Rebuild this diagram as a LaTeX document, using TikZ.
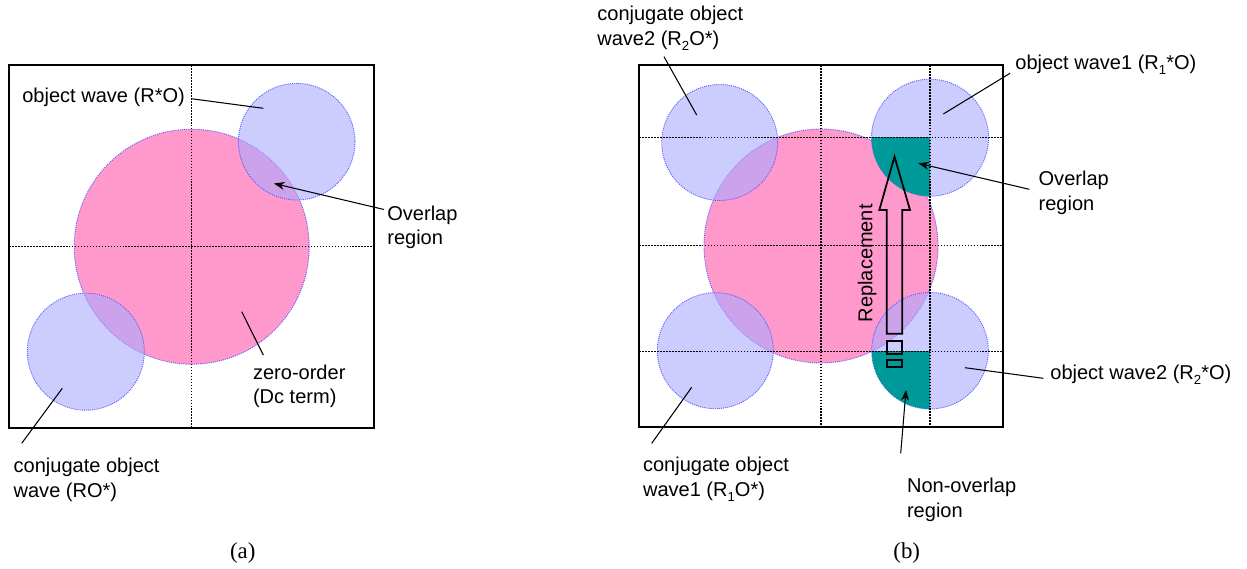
\documentclass[tikz,border=0pt]{standalone}
\usepackage{fontspec}
\setmainfont{Liberation Sans}
\newfontfamily\capfont{Liberation Serif}
\usetikzlibrary{arrows.meta}
\definecolor{pinkfill}{RGB}{255,153,204}
\definecolor{bluefill}{RGB}{170,170,255}
\definecolor{rimblue}{RGB}{90,90,255}
\definecolor{tealfill}{RGB}{0,153,153}
\newcommand{\lsub}[1]{\raisebox{-0.5ex}{\fontsize{7.5}{8}\selectfont #1}}
\begin{document}
\begin{tikzpicture}[x=0.02cm,y=-0.02cm,
 lbl/.style={anchor=west,inner sep=0pt,align=left,font=\fontsize{11.4}{14}\selectfont},
 captext/.style={inner sep=0pt,font=\capfont\fontsize{13}{15}\selectfont},
 zero/.style={fill=pinkfill,draw=rimblue,line width=0.5pt,dash pattern=on 0.6pt off 0.6pt},
 wave/.style={fill=bluefill,fill opacity=0.6,draw=rimblue,draw opacity=1,line width=0.5pt,dash pattern=on 0.6pt off 0.6pt},
 gridline/.style={line width=0.6pt,dash pattern=on 1pt off 0.7pt},
 frame/.style={draw=black,line width=0.8pt},
 leader/.style={line width=0.6pt},
 pointer/.style={line width=0.6pt,-{Stealth[length=6pt,width=4.5pt]}},
 hollow/.style={draw=black,line width=1pt,line join=miter}]
\useasboundingbox (0,0) rectangle (1247,568);

% ---------------- panel (a) ----------------
\fill[zero] (191.7,246.7) circle (117.5);
\filldraw[wave] (296.7,141.7) circle (58.3);
\filldraw[wave] (85.8,351.7) circle (58.5);
\draw[gridline] (191.7,65) -- (191.7,428);
\draw[gridline] (9,246.7) -- (374,246.7);
\draw[frame] (9,65) rectangle (374,428);

\node[lbl] (a1) at (22,97.7) {object wave (R*O)};
\node[lbl] (a2) at (387,227.5) {Overlap\\region};
\node[lbl] (a3) at (252.7,386.5) {zero-order\\(Dc term)};
\node[lbl] (a4) at (13.3,480) {conjugate object\\wave (RO*)};
\node[captext] (capa) at (242.7,552.7) {(a)};

\coordinate (a1s) at (191.3,98.7);  \coordinate (a1e) at (263.3,108.3);
\coordinate (a2s) at (384,209.5);   \coordinate (a2e) at (274,183.5);
\coordinate (a3s) at (263.3,355);   \coordinate (a3e) at (241.7,311.7);
\coordinate (a4s) at (21.7,443.3);  \coordinate (a4e) at (62.3,388.3);
\draw[leader] (a1s) -- (a1e);
\draw[pointer] (a2s) -- (a2e);
\draw[leader] (a3s) -- (a3e);
\draw[leader] (a4s) -- (a4e);

% ---------------- panel (b) ----------------
\fill[zero] (821,246) circle (117);
\filldraw[wave] (719.7,142.5) circle (58);
\filldraw[wave] (930,137.7) circle (58.5);
\filldraw[wave] (715.3,350.7) circle (58);
\filldraw[wave] (930,350.7) circle (58.3);
\begin{scope}
  \clip (871,137.7) rectangle (930,200);
  \fill[tealfill] (930,137.7) circle (58.5);
\end{scope}
\begin{scope}
  \clip (871,351.7) rectangle (930,412);
  \fill[tealfill] (930,350.7) circle (58.3);
\end{scope}
\draw[gridline] (821,65) -- (821,427);
\draw[gridline] (930,65) -- (930,427);
\draw[gridline] (639,137.7) -- (1003,137.7);
\draw[gridline] (639,245.7) -- (1003,245.7);
\draw[gridline] (639,351.7) -- (1003,351.7);
\draw[frame] (639,65) rectangle (1003,427);

\draw[hollow] (886.7,333.7) -- (886.7,210) -- (879.3,210) -- (894.5,156.7)
  -- (910,210) -- (902.3,210) -- (902.3,333.7) -- cycle;
\draw[hollow] (886.7,340.7) rectangle (902.3,354);
\draw[hollow] (887,360) rectangle (902.3,367.3);
\node[lbl,anchor=center,rotate=90] (rep) at (867.3,263.3) {Replacement};

\node[lbl] (b1) at (597,28.3) {conjugate object\\wave2 (R\lsub{2}O*)};
\node[lbl] (b2) at (1015,65) {object wave1 (R\lsub{1}*O)};
\node[lbl] (b3) at (1038.3,193) {Overlap\\region};
\node[lbl] (b4) at (1050,375) {object wave2 (R\lsub{2}*O)};
\node[lbl] (b5) at (642.7,479.2) {conjugate object\\wave1 (R\lsub{1}O*)};
\node[lbl] (b6) at (906.7,500) {Non-overlap\\region};
\node[captext] (capb) at (906.7,552.7) {(b)};

\coordinate (b1s) at (664,56.7);     \coordinate (b1e) at (696.7,115);
\coordinate (b2s) at (1010,73.3);    \coordinate (b2e) at (943.3,114);
\coordinate (b3s) at (1029.3,189.3); \coordinate (b3e) at (918.3,163.3);
\coordinate (b4s) at (1043.3,378.3); \coordinate (b4e) at (965,367.7);
\coordinate (b5s) at (651.7,443.3);  \coordinate (b5e) at (691.7,387.3);
\coordinate (b6s) at (900.7,453.3);  \coordinate (b6e) at (906,390);
\draw[leader] (b1s) -- (b1e);
\draw[leader] (b2s) -- (b2e);
\draw[pointer] (b3s) -- (b3e);
\draw[leader] (b4s) -- (b4e);
\draw[leader] (b5s) -- (b5e);
\draw[pointer] (b6s) -- (b6e);
\end{tikzpicture}
\end{document}
